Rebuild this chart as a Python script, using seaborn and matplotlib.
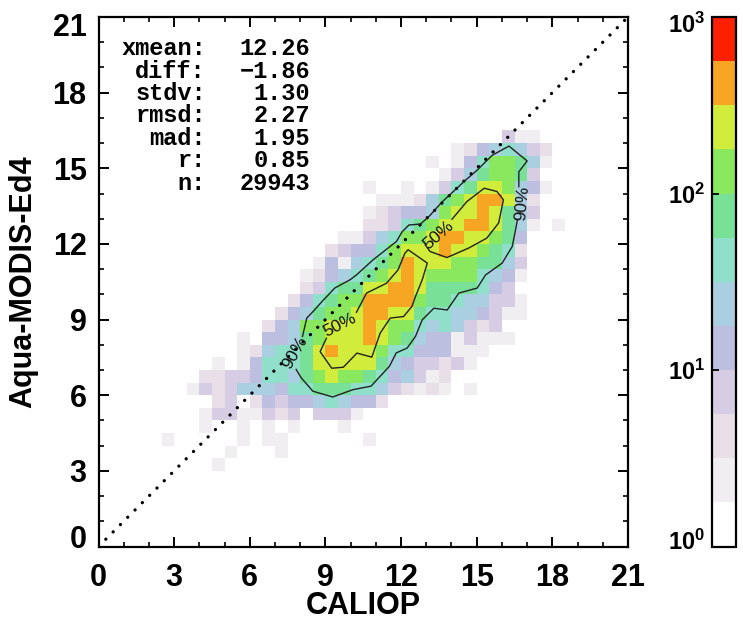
import numpy as np
import matplotlib
matplotlib.use('Agg')
import matplotlib.pyplot as plt
from matplotlib.colors import ListedColormap, LogNorm
from matplotlib.transforms import ScaledTranslation
import seaborn as sns

plt.rcParams['font.family'] = ['Liberation Sans', 'DejaVu Sans']
plt.rcParams['mathtext.fontset'] = 'custom'
plt.rcParams['mathtext.rm'] = 'Liberation Sans:bold'
plt.rcParams['mathtext.default'] = 'rm'

# 0.5 unit bins, each entry: row from bottom, first column, colour level per cell (hex)
band_rows = [
    (32, 32, "311"),
    (31, 28, "12456532"),
    (30, 26, "1014688751"),
    (29, 27, "13578873"),
    (28, 21, "100101367998541"),
    (27, 22, "11125789aa952"),
    (26, 21, "123445899a9753"),
    (25, 21, "22367899aa975101"),
    (24, 19, "11356889aa99874"),
    (23, 18, "234468999a998762"),
    (22, 17, "1415678a999887753"),
    (21, 16, "12456789a988886541"),
    (20, 16, "2367799aa97777643"),
    (19, 15, "246788aaaa877655331"),
    (18, 14, "2457889aa99766554311"),
    (17, 13, "24588999a9886565323"),
    (16, 11, "1044578999a98754413111"),
    (15, 11, "1256679a999866444111"),
    (14, 9, "101466679999975433231"),
    (13, 8, "22334665789887645312"),
    (12, 7, "13235554667776653212101"),
    (11, 9, "23024344565442"),
    (10, 8, "1331132303331"),
    (9, 8, "100101010001"),
    (8, 5, "10000010110000001"),
    (7, 10, "10001"),
    (6, 9, "1"),
]
# a typical count for each colour level
level_counts = [1, 2, 4, 7, 13, 24, 42, 75, 133, 240, 420, 750]
level_colors = ['#ffffff', '#f0eef0', '#e8dfe9', '#d6cde4', '#bcbfe0', '#a9cfe0',
                '#8fdfcb', '#79e197', '#8ae85e', '#d1ec3a', '#f6a623', '#fb2000']

# contours in data units
c90a_x = [8.09, 8.26, 8.51, 8.86, 9.37, 9.98, 10.23, 10.89, 11.82, 12.04, 12.31, 12.77, 13.10,
          13.63, 14.56, 15.02, 15.62, 16.28, 17.00, 16.67, 16.67]
c90a_y = [8.33, 9.06, 9.32, 9.71, 10.25, 10.58, 10.77, 11.37, 12.10, 12.48, 12.75, 12.79, 13.08,
          13.67, 14.53, 14.93, 15.52, 15.88, 15.29, 14.86, 14.27]
c90b_x = [16.61, 16.54, 16.41, 16.01, 15.35, 15.02, 14.29, 13.83, 13.30, 12.84, 12.57, 12.24,
          11.81, 11.54, 10.81, 10.09, 9.29, 8.50, 8.04, 7.84]
c90b_y = [12.94, 12.56, 11.90, 11.24, 10.77, 10.25, 10.05, 9.38, 9.45, 8.99, 8.33, 7.87,
          7.68, 7.15, 6.36, 6.22, 5.93, 6.16, 6.69, 7.02]
c50a_x = [10.23, 10.63, 11.42, 11.88, 12.15, 12.28, 13.04, 12.84, 12.57, 12.43, 12.10, 11.57,
          11.17, 10.84, 10.25, 9.71, 9.25, 8.79, 9.04]
c50a_y = [9.29, 10.05, 10.44, 10.97, 11.63, 11.77, 11.24, 10.58, 9.91, 9.52, 9.12, 9.06,
          8.46, 7.51, 7.67, 7.11, 7.07, 7.73, 8.26]
c50b_x = [14.02, 14.61, 15.30, 15.80, 16.06, 15.87, 15.40, 14.67, 13.82, 13.15, 12.96]
c50b_y = [12.98, 13.68, 14.21, 14.08, 13.75, 12.83, 12.23, 11.83, 11.46, 11.70, 11.96]

label_text = ['50%', '50%', '90%', '90%']
label_x = [9.58, 13.47, 7.80, 16.80]
label_y = [8.79, 12.36, 7.68, 13.60]
label_rot = [27, 41, 60, 85]

stat_names = ['xmean:', 'diff:', 'stdv:', 'rmsd:', 'mad:', 'r:', 'n:']
stat_values = ['12.26', '\u22121.86', '1.30', '2.27', '1.95', '0.85', '29943']

axis_ticks = [0, 3, 6, 9, 12, 15, 18, 21]
cbar_ticks = [1, 10, 100, 1000]
n_bins = 42
axis_max = 21

counts = np.ones((n_bins, n_bins))
for row, col, levels in band_rows:
    for i, ch in enumerate(levels):
        counts[row, col + i] = level_counts[int(ch, 16)]

W, H = 743, 620
fig = plt.figure(figsize=(W / 100, H / 100), dpi=100)
ax = fig.add_axes([98.5 / W, (H - 546.5) / H, 529.5 / W, 529.5 / H])
cax = fig.add_axes([712 / W, (H - 546.5) / H, 24 / W, 529.5 / H])

cmap = ListedColormap(level_colors)
sns.heatmap(counts, ax=ax, cmap=cmap, norm=LogNorm(vmin=1, vmax=1000), cbar=True, cbar_ax=cax,
            xticklabels=False, yticklabels=False)
ax.set_xlim(0, n_bins)
ax.set_ylim(0, n_bins)  # row 0 at the bottom

# bins are 0.5 wide, so data value * 2 is the heatmap position
ax.plot([0, n_bins], [0, n_bins], color='black', lw=2.4, linestyle=(0, (0.01, 3.09)),
        dash_capstyle='round')
for xs, ys in [(c90a_x, c90a_y), (c90b_x, c90b_y), (c50a_x, c50a_y), (c50b_x, c50b_y)]:
    ax.plot(np.array(xs) * 2, np.array(ys) * 2, color='#222222', lw=1.0)
for txt, x, y, rot in zip(label_text, label_x, label_y, label_rot):
    ax.text(x * 2, y * 2, txt, fontsize=12.5, rotation=rot, rotation_mode='anchor',
            ha='center', va='center', color='#111111')

ax.set_xticks(np.array(axis_ticks) * 2)
ax.set_yticks(np.array(axis_ticks) * 2)
ax.set_xticklabels(axis_ticks, rotation=0)
ax.set_yticklabels(axis_ticks, rotation=0)
ax.set_xticks(np.arange(0, axis_max + 1) * 2, minor=True)
ax.set_yticks(np.arange(0, axis_max + 1) * 2, minor=True)
ax.tick_params(which='major', direction='in', length=7.5, width=1.4, top=True, right=True,
               labelsize=22)
ax.tick_params(which='minor', direction='in', length=3.8, width=1.2, top=True, right=True)
ax.tick_params(axis='x', pad=12)
ax.tick_params(axis='y', pad=8.5)
for lab in ax.get_xticklabels() + ax.get_yticklabels():
    lab.set_fontweight('bold')


def nudge(lab, dy_px):
    # end labels sit inside the axis range, positive is up
    lab.set_transform(lab.get_transform() + ScaledTranslation(0, dy_px / 100, fig.dpi_scale_trans))


ylabs = ax.get_yticklabels()
nudge(ylabs[0], 10)
nudge(ylabs[-1], -8)
for sp in ax.spines.values():
    sp.set_visible(True)
    sp.set_linewidth(1.6)

ax.set_xlabel('CALIOP', fontsize=22, fontweight='bold')
ax.xaxis.set_label_coords(0.5, -(591 - 546.5) / 529.5)
ax.set_ylabel('Aqua-MODIS-Ed4', fontsize=22, fontweight='bold', labelpad=10)

for i, (name, val) in enumerate(zip(stat_names, stat_values)):
    y = 0.94 - i * 0.0423
    ax.text(0.203, y, name, transform=ax.transAxes, family='Liberation Mono', fontweight='bold',
            fontsize=17, ha='right', va='center')
    ax.text(0.40, y, val, transform=ax.transAxes, family='Liberation Mono', fontweight='bold',
            fontsize=17, ha='right', va='center')

cbar = ax.collections[0].colorbar
cbar.set_ticks(cbar_ticks)
cbar.set_ticklabels([f'$10^{{{i}}}$' for i in range(len(cbar_ticks))])
cbar.ax.minorticks_off()
cbar.ax.yaxis.set_ticks_position('left')
cbar.ax.tick_params(direction='in', length=5, width=1.3, labelsize=17, pad=5)
cbar.outline.set_visible(True)
cbar.outline.set_linewidth(1.6)
clabs = cbar.ax.get_yticklabels()
nudge(clabs[0], 7)
nudge(clabs[-1], -6)

fig.savefig('out.png', dpi=100)
